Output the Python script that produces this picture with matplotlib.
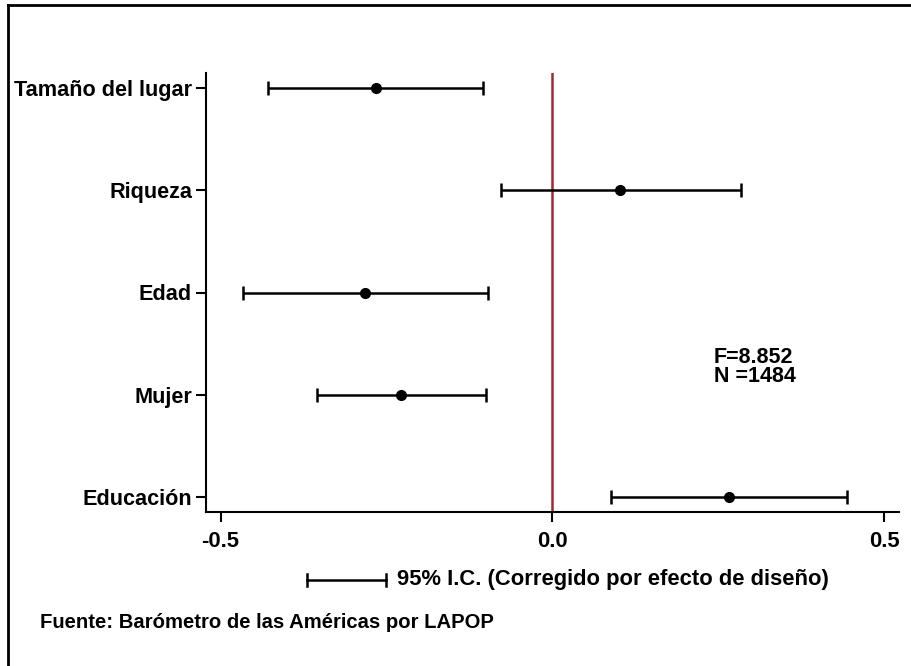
import matplotlib.pyplot as plt
from matplotlib.lines import Line2D

variables = ["Educación", "Mujer", "Edad", "Riqueza", "Tamaño del lugar"]
estimates = [0.266, -0.228, -0.283, 0.101, -0.266]
ci_low = [0.088, -0.355, -0.467, -0.078, -0.428]
ci_high = [0.443, -0.100, -0.097, 0.284, -0.105]
x_ticks = [-0.5, 0.0, 0.5]
x_tick_labels = ["-0.5", "0.0", "0.5"]

plt.rcParams["font.family"] = ["Liberation Sans", "DejaVu Sans"]
plt.rcParams["font.weight"] = "bold"

W, H = 912, 666
fig = plt.figure(figsize=(W / 100, H / 100), dpi=100)
ax = fig.add_axes([206 / W, 1 - 512 / H, (899 - 206) / W, (512 - 73) / H])

pos = list(range(len(variables)))
err = [[e - lo for e, lo in zip(estimates, ci_low)],
       [hi - e for e, hi in zip(estimates, ci_high)]]
ax.errorbar(estimates, pos, xerr=err, fmt="o", color="black", ecolor="black",
            elinewidth=1.8, capsize=5, capthick=1.8, markersize=7, zorder=3)
ax.axvline(0.0, color="#a3282f", linewidth=1.8, zorder=2)

ax.set_xlim(-0.522, 0.522)
ax.set_ylim(-0.147, len(variables) - 1 + 0.147)
ax.set_yticks(pos)
ax.set_yticklabels(variables, fontsize=15.6, fontweight="bold")
ax.set_xticks(x_ticks)
ax.set_xticklabels(x_tick_labels, fontsize=15.8, fontweight="bold")
ax.tick_params(axis="both", length=7, width=1.5, pad=7)
ax.tick_params(axis="y", pad=3)
for side in ("top", "right"):
    ax.spines[side].set_visible(False)
for side in ("left", "bottom"):
    ax.spines[side].set_linewidth(1.5)

ax.text(714 / W, 1 - 367 / H, "F=8.852\nN =1484", transform=fig.transFigure,
        fontsize=15.5, fontweight="bold", va="center", ha="left",
        linespacing=0.9)

# legend key for the confidence interval
y_leg = 1 - 580 / H
fig.add_artist(Line2D([307 / W, 386 / W], [y_leg, y_leg], color="black", lw=1.8))
for xk in (307, 386):
    fig.add_artist(Line2D([xk / W, xk / W], [y_leg - 6 / H, y_leg + 6 / H],
                          color="black", lw=1.8))
fig.text(397 / W, y_leg, "95% I.C. (Corregido por efecto de diseño)",
         fontsize=15.8, fontweight="bold", va="center", ha="left")
fig.text(40 / W, 1 - 623 / H, "Fuente: Barómetro de las Américas por LAPOP",
         fontsize=14.6, fontweight="bold", va="center", ha="left")

# outer frame (top and left edges)
fig.add_artist(Line2D([8 / W, 1.0], [1 - 5 / H, 1 - 5 / H], color="black", lw=2))
fig.add_artist(Line2D([8 / W, 8 / W], [0.0, 1 - 5 / H], color="black", lw=2))

fig.savefig("out.png", dpi=100)
